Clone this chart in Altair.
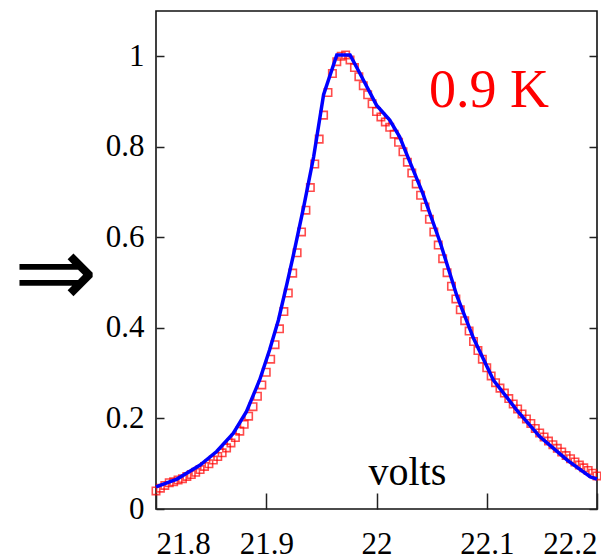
import altair as alt
import pandas as pd

# ---- data ----
red_x = [21.800, 21.804, 21.808, 21.812, 21.816, 21.820, 21.824, 21.828, 21.832, 21.836,
         21.840, 21.844, 21.848, 21.852, 21.856, 21.860, 21.864, 21.868, 21.872, 21.876,
         21.880, 21.884, 21.888, 21.892, 21.896, 21.900, 21.904, 21.908, 21.912, 21.916,
         21.920, 21.924, 21.928, 21.932, 21.936, 21.940, 21.944, 21.948, 21.952, 21.956,
         21.960, 21.964, 21.968, 21.972, 21.976, 21.980, 21.984, 21.988, 21.992, 21.996,
         22.000, 22.004, 22.008, 22.012, 22.016, 22.020, 22.024, 22.028, 22.032, 22.036,
         22.040, 22.044, 22.048, 22.052, 22.056, 22.060, 22.064, 22.068, 22.072, 22.076,
         22.080, 22.084, 22.088, 22.092, 22.096, 22.100, 22.104, 22.108, 22.112, 22.116,
         22.120, 22.124, 22.128, 22.132, 22.136, 22.140, 22.144, 22.148, 22.152, 22.156,
         22.160, 22.164, 22.168, 22.172, 22.176, 22.180, 22.184, 22.188, 22.192, 22.196,
         22.200]
red_y = [0.040, 0.046, 0.052, 0.058, 0.060, 0.064, 0.067, 0.072, 0.076, 0.081,
         0.087, 0.094, 0.100, 0.108, 0.116, 0.124, 0.135, 0.146, 0.158, 0.172,
         0.187, 0.205, 0.226, 0.249, 0.274, 0.302, 0.331, 0.363, 0.398, 0.436,
         0.477, 0.521, 0.566, 0.612, 0.660, 0.710, 0.762, 0.817, 0.870, 0.920,
         0.962, 0.988, 1.000, 1.003, 0.992, 0.975, 0.955, 0.935, 0.915, 0.895,
         0.878, 0.866, 0.855, 0.843, 0.828, 0.810, 0.789, 0.766, 0.742, 0.718,
         0.693, 0.667, 0.640, 0.612, 0.583, 0.553, 0.522, 0.492, 0.464, 0.440,
         0.416, 0.393, 0.370, 0.350, 0.331, 0.312, 0.294, 0.279, 0.267, 0.256,
         0.244, 0.232, 0.221, 0.210, 0.199, 0.189, 0.178, 0.168, 0.159, 0.150,
         0.142, 0.134, 0.126, 0.118, 0.111, 0.104, 0.097, 0.091, 0.085, 0.079,
         0.073]

blue_x = [21.800, 21.819, 21.840, 21.855, 21.870, 21.882, 21.894, 21.903, 21.911, 21.919,
          21.925, 21.934, 21.943, 21.952, 21.964, 21.976, 21.985, 22.000, 22.012,
          22.021, 22.027, 22.042, 22.058, 22.073, 22.088, 22.106, 22.127, 22.148, 22.173,
          22.194, 22.200]
blue_y = [0.049, 0.066, 0.097, 0.127, 0.167, 0.215, 0.285, 0.351, 0.417, 0.500,
          0.565, 0.668, 0.778, 0.915, 1.003, 1.003, 0.962, 0.892, 0.859,
          0.822, 0.786, 0.697, 0.587, 0.470, 0.377, 0.285, 0.219, 0.160, 0.108,
          0.071, 0.066]

x_ticks = [21.8, 21.9, 22.0, 22.1, 22.2]
y_ticks = [0, 0.2, 0.4, 0.6, 0.8, 1.0]

label_text = ["0.9 K"]
label_x = [22.102]
label_y = [0.888]

unit_text = ["volts"]
unit_x = [22.028]
unit_y = [0.053]

arrow_text = ["\u21d2"]
arrow_x = [21.709]
arrow_y = [0.449]

# ---- build ----
red_df = pd.DataFrame({"x": red_x, "y": red_y})
blue_df = pd.DataFrame({"x": blue_x, "y": blue_y})

xs = alt.Scale(domain=[21.8, 22.2], nice=False, zero=False)
ys = alt.Scale(domain=[0, 1.1], nice=False, zero=False)

x_axis = alt.Axis(values=x_ticks, format="~g", orient="bottom", title=None,
                  offset=-16, tickSize=16, labelPadding=20, labelFlush=True,
                  domain=False, grid=False, tickColor="#222", tickWidth=1.5,
                  labelFont="Liberation Serif", labelFontSize=31, labelColor="black")
y_axis = alt.Axis(values=y_ticks, format="~g", orient="left", title=None,
                  offset=-8, tickSize=8, labelPadding=12,
                  domain=False, grid=False, tickColor="#222", tickWidth=1.5,
                  labelFont="Liberation Serif", labelFontSize=31, labelColor="black")
y_axis_r = alt.Axis(values=y_ticks, orient="right", title=None, labels=False,
                    offset=-8, tickSize=8, domain=False, grid=False,
                    tickColor="#222", tickWidth=1.5)

pts = alt.Chart(red_df).mark_point(
    shape="square", filled=False, color="red", size=55, strokeWidth=1.6
).encode(
    x=alt.X("x:Q", scale=xs, axis=x_axis),
    y=alt.Y("y:Q", scale=ys, axis=y_axis),
)

pts_r = alt.Chart(red_df).mark_point(opacity=0).encode(
    x=alt.X("x:Q", scale=xs),
    y=alt.Y("y:Q", scale=ys, axis=y_axis_r),
)

line = alt.Chart(blue_df).mark_line(color="blue", strokeWidth=3.5).encode(
    x=alt.X("x:Q", scale=xs),
    y=alt.Y("y:Q", scale=ys, axis=None),
)

lab = alt.Chart(pd.DataFrame({"t": label_text, "x": label_x, "y": label_y})).mark_text(
    font="Liberation Serif", fontSize=54, color="red", align="center", baseline="alphabetic"
).encode(x=alt.X("x:Q", scale=xs), y=alt.Y("y:Q", scale=ys, axis=None), text="t:N")

unit = alt.Chart(pd.DataFrame({"t": unit_text, "x": unit_x, "y": unit_y})).mark_text(
    font="Liberation Serif", fontSize=40, color="black", align="center", baseline="alphabetic"
).encode(x=alt.X("x:Q", scale=xs), y=alt.Y("y:Q", scale=ys, axis=None), text="t:N")

arrow = alt.Chart(pd.DataFrame({"t": arrow_text, "x": arrow_x, "y": arrow_y})).mark_text(
    font="DejaVu Sans", fontSize=100, color="black", align="center", baseline="alphabetic"
).encode(x=alt.X("x:Q", scale=xs), y=alt.Y("y:Q", scale=ys, axis=None), text="t:N")

chart = alt.layer(pts, pts_r, line, lab, unit, arrow).resolve_axis(y="independent").properties(
    width=441, height=498,
    autosize=alt.AutoSizeParams(type="none"),
    padding={"left": 156, "top": 11, "right": 4, "bottom": 50},
    background="white",
).configure_view(
    stroke="#111", strokeWidth=1.6
)

chart.save("out.html", embed_options={"renderer": "svg", "actions": False})
